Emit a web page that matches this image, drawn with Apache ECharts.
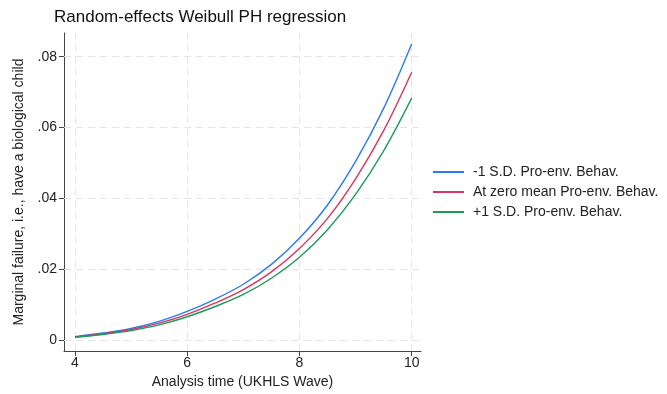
<!DOCTYPE html>
<html>
<head>
<meta charset="utf-8">
<script src="https://cdn.jsdelivr.net/npm/echarts@6/dist/echarts.min.js"></script>
<style>
  html, body { margin: 0; padding: 0; background: #fff; }
  #main { width: 667px; height: 394px; }
</style>
</head>
<body>
<div id="main"></div>
<script>
// analysis time (UKHLS wave)
const waves = [4, 4.5, 5, 5.5, 6, 6.5, 7, 7.5, 8, 8.5, 9, 9.5, 10];
// marginal failure
const minusOneSD = [0.0009, 0.0019, 0.0032, 0.0052, 0.0080, 0.0115, 0.0157, 0.0213, 0.0287, 0.0381, 0.0504, 0.0654, 0.0836];
const zeroMean   = [0.0008, 0.0017, 0.0029, 0.0047, 0.0072, 0.0104, 0.0142, 0.0192, 0.0258, 0.0343, 0.0455, 0.0591, 0.0756];
const plusOneSD  = [0.0007, 0.0015, 0.0026, 0.0042, 0.0065, 0.0094, 0.0128, 0.0174, 0.0233, 0.0311, 0.0411, 0.0534, 0.0683];
const xTicks = [4, 6, 8, 10];
const yTicks = [0, 0.02, 0.04, 0.06, 0.08];

const font = "'Liberation Sans', Arial, Helvetica, sans-serif";
const pairs = (ys) => waves.map((w, i) => [w, ys[i]]);

const chart = echarts.init(document.getElementById('main'), null, { renderer: 'canvas' });

function curve(name, color, ys) {
  return {
    name: name,
    type: 'line',
    smooth: 0.35,
    showSymbol: false,
    z: 3,
    color: color,
    lineStyle: { width: 1.4, color: color },
    data: pairs(ys)
  };
}

let option = {
  backgroundColor: '#fff',
  animation: false,
  title: {
    text: 'Random-effects Weibull PH regression',
    left: 54,
    top: 9,
    padding: 0,
    textStyle: { fontFamily: font, fontSize: 17, fontWeight: 'normal', color: '#111' }
  },
  legend: {
    orient: 'vertical',
    left: 433,
    top: 165,
    padding: 0,
    itemGap: 6,
    itemWidth: 31,
    itemHeight: 2,
    icon: 'rect',
    textStyle: { fontFamily: font, fontSize: 14, color: '#222', padding: [0, 0, 0, 4] },
    data: ['-1 S.D. Pro-env. Behav.', 'At zero mean Pro-env. Behav.', '+1 S.D. Pro-env. Behav.']
  },
  grid: {
    left: 64,
    right: 246,
    top: 33,
    bottom: 42
  },
  xAxis: {
    type: 'value',
    min: 3.804,
    max: 10.166,
    name: 'Analysis time (UKHLS Wave)',
    nameLocation: 'middle',
    nameGap: 22,
    nameTextStyle: { fontFamily: font, fontSize: 14, color: '#222' },
    axisLine: { show: true, onZero: false, lineStyle: { color: '#444', width: 1 } },
    axisTick: { show: true, length: 5, customValues: xTicks, lineStyle: { color: '#444' } },
    axisLabel: {
      customValues: xTicks,
      margin: 5,
      fontFamily: font, fontSize: 14, color: '#222'
    },
    splitLine: { show: false }
  },
  yAxis: {
    type: 'value',
    min: -0.0032,
    max: 0.0867,
    name: 'Marginal failure, i.e., have a biological child',
    nameLocation: 'middle',
    nameGap: 37,
    nameTextStyle: { fontFamily: font, fontSize: 14, color: '#222' },
    axisLine: { show: true, onZero: false, lineStyle: { color: '#444', width: 1 } },
    axisTick: { show: true, length: 5, customValues: yTicks, lineStyle: { color: '#444' } },
    axisLabel: {
      customValues: yTicks,
      margin: 7,
      fontFamily: font, fontSize: 14, color: '#222',
      formatter: function (v) {
        return v === 0 ? '0' : v.toFixed(2).replace(/^0/, '');
      }
    },
    splitLine: { show: false }
  },
  series: [
    {
      // grid lines, kept under the curves
      name: 'grid',
      type: 'line',
      data: [],
      z: 1,
      silent: true,
      markLine: {
        z: 1,
        silent: true,
        symbol: 'none',
        label: { show: false },
        lineStyle: { color: '#e4e4e4', type: [7, 5], width: 1 },
        data: yTicks.map(v => ({ yAxis: v })).concat(xTicks.map(v => ({ xAxis: v })))
      }
    },
    curve('-1 S.D. Pro-env. Behav.', '#2a7af0', minusOneSD),
    curve('At zero mean Pro-env. Behav.', '#d8345f', zeroMean),
    curve('+1 S.D. Pro-env. Behav.', '#1d9a5a', plusOneSD)
  ]
};
chart.setOption(option);
</script>
</body>
</html>
